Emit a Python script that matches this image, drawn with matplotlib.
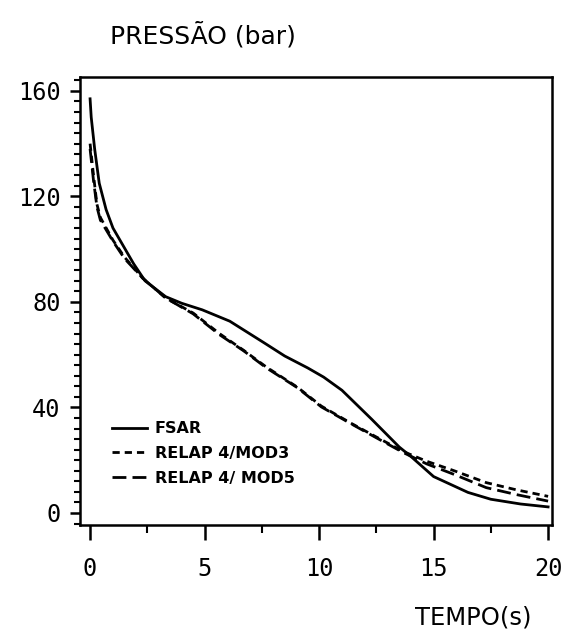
import matplotlib
matplotlib.use("Agg")
import matplotlib.pyplot as plt
from matplotlib.ticker import MultipleLocator

# FSAR (linha cheia)
t_fsar = [0.0, 0.05, 0.2, 0.4, 0.7, 1.0, 1.4, 1.9, 2.4, 3.3, 4.0, 4.9, 6.1, 7.6,
          8.5, 9.5, 10.2, 11.0, 12.3, 13.5, 14.0, 15.0, 16.5, 17.5, 18.8, 20.0]
p_fsar = [157, 150, 138, 125, 115, 108, 102, 94.5, 88, 82, 79.5, 77, 72.7, 64.5,
          59.5, 55, 51.5, 46.5, 35.5, 25, 21.5, 13.8, 7.8, 5.2, 3.4, 2.3]

# RELAP 4/MOD3 (tracejado curto)
t_mod3 = [0.0, 0.15, 0.3, 0.45, 1.0, 1.5, 2.3, 3.3, 4.5, 5.65, 6.7, 7.7, 9.05,
          10.1, 11.4, 12.5, 13.7, 14.7, 15.9, 17.3, 18.6, 20.0]
p_mod3 = [140, 128, 117, 112, 103.4, 97, 89, 81.5, 75.8, 68, 61.7, 55.3, 47.7,
          40.5, 34, 28.8, 23.2, 19.6, 16.0, 11.5, 8.8, 6.3]

# RELAP 4/MOD5 (tracejado longo)
t_mod5 = [0.0, 0.15, 0.3, 0.45, 1.0, 1.5, 2.3, 3.3, 4.5, 5.65, 6.7, 7.7, 9.05,
          10.1, 11.4, 12.5, 13.7, 14.7, 15.9, 17.3, 18.6, 20.0]
p_mod5 = [138, 126, 116, 111, 103, 96.5, 89, 81.5, 75.5, 67.6, 61.5, 55, 47.5,
          40.2, 33.8, 28.5, 22.8, 18.6, 14.6, 9.6, 7.0, 4.5]

labels = ["FSAR", "RELAP 4/MOD3", "RELAP 4/ MOD5"]

fig = plt.figure(figsize=(5.67, 6.41), dpi=100)
ax = fig.add_axes([80 / 567, 0.181, 472 / 567, 0.699])

lw = 2.0
ax.plot(t_fsar, p_fsar, color="black", lw=lw, label=labels[0])
ax.plot(t_mod3, p_mod3, color="black", lw=lw, dashes=(2.6, 1.8), label=labels[1])
ax.plot(t_mod5, p_mod5, color="black", lw=lw, dashes=(5, 2.2), label=labels[2])

ax.set_xlim(-0.44, 20.17)
ax.set_ylim(-4.55, 165.3)
ax.xaxis.set_major_locator(MultipleLocator(5))
ax.xaxis.set_minor_locator(MultipleLocator(2.5))
ax.yaxis.set_major_locator(MultipleLocator(40))
ax.yaxis.set_minor_locator(MultipleLocator(4))

for s in ax.spines.values():
    s.set_linewidth(1.8)

ax.tick_params(axis="x", which="major", direction="out", length=11, width=1.8,
               pad=12, labelsize=17)
ax.tick_params(axis="x", which="minor", direction="out", length=6, width=1.5)
ax.tick_params(axis="y", which="major", direction="out", length=7, width=1.8,
               pad=7, labelsize=17)
ax.tick_params(axis="y", which="minor", direction="out", length=4, width=1.5)
for lab in ax.get_xticklabels() + ax.get_yticklabels():
    lab.set_family("DejaVu Sans Mono")

fig.text(110 / 567, 1 - 35 / 641, "PRESSÃO (bar)", fontsize=18,
         ha="left", va="center")
fig.text(473 / 567, 1 - 617 / 641, "TEMPO(s)", fontsize=17.5,
         ha="center", va="center")

leg = ax.legend(loc="lower left", bbox_to_anchor=(0.05, 0.07), frameon=False,
                prop={"weight": "bold", "size": 11.5}, handlelength=2.2,
                handletextpad=0.5, labelspacing=0.6, borderpad=0)

fig.savefig("out.png", dpi=100, facecolor="white")
